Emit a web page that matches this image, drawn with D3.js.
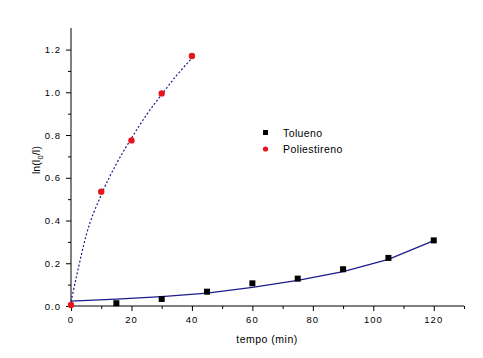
<!DOCTYPE html>
<html><head><meta charset="utf-8">
<script src="https://cdn.jsdelivr.net/npm/d3@7"></script>
<style>body{margin:0;background:#fff}svg{display:block}text{font-family:"Liberation Sans",Arial,sans-serif}</style>
</head><body><svg id="c" width="483" height="358"></svg>
<script>
const toluenoX = [15, 30, 45, 60, 75, 90, 105, 120];
const toluenoY = [0.013, 0.033, 0.067, 0.106, 0.128, 0.172, 0.225, 0.307];
const poliX = [0, 10, 20, 30, 40];
const poliY = [0.005, 0.535, 0.775, 0.995, 1.17];
const toluenoFitX = [0, 15, 30, 45, 60, 75, 90, 105, 120];
const toluenoFitY = [0.023, 0.032, 0.044, 0.060, 0.087, 0.120, 0.161, 0.218, 0.306];
const poliFitX = [0, 2, 5, 10, 15, 20, 25, 30, 35, 40];
const poliFitY = [0.02, 0.15, 0.33, 0.52, 0.665, 0.785, 0.895, 0.99, 1.08, 1.16];
const xTicks = [0, 20, 40, 60, 80, 100, 120];
const yTicks = [0.0, 0.2, 0.4, 0.6, 0.8, 1.0, 1.2];
const legendLabels = ["Tolueno", "Poliestireno"];

const svg = d3.select("#c");
const x = d3.scaleLinear().domain([0, 130]).range([71, 464]);
const y = d3.scaleLinear().domain([0, 1.3]).range([306, 28.2]);

// axes
const gx = svg.append("g").attr("transform", "translate(0,306)");
gx.call(d3.axisBottom(x).tickValues(d3.range(0, 131, 10)).tickSize(3).tickFormat(""));
gx.call(g => g.selectAll(".tick").filter(d => d % 20 === 0).select("line").attr("y2", 5));
gx.select(".domain").attr("d", "M71,0H464");
const gxl = svg.append("g");
xTicks.forEach(t => gxl.append("text").attr("x", x(t)).attr("y", 323).attr("text-anchor", "middle")
  .attr("font-size", 9.5).attr("letter-spacing", 1).text(t));

const gy = svg.append("g").attr("transform", "translate(71,0)");
gy.call(d3.axisLeft(y).tickValues(d3.range(0, 13).map(i => i / 10)).tickSize(3).tickFormat(""));
gy.call(g => g.selectAll(".tick").filter(d => Math.round(d * 10) % 2 === 0).select("line").attr("x2", -5));
gy.select(".domain").attr("d", "M0,306V28");
yTicks.forEach(t => svg.append("text").attr("x", 61).attr("y", y(t) + 3.5).attr("text-anchor", "end")
  .attr("font-size", 9.5).attr("letter-spacing", 1).text(t.toFixed(1)));
svg.selectAll(".domain, .tick line").attr("stroke", "#000").attr("stroke-width", 1);

// axis titles
svg.append("text").attr("x", 267).attr("y", 343).attr("text-anchor", "middle").attr("font-size", 10.5)
  .attr("letter-spacing", 0.5).text("tempo (min)");
const yl = svg.append("text").attr("transform", "translate(40,160) rotate(-90)").attr("text-anchor", "middle").attr("font-size", 10.5);
yl.append("tspan").text("ln(I");
yl.append("tspan").attr("font-size", 7.5).attr("dy", 3).text("0");
yl.append("tspan").attr("dy", -3).text("/I)");

// fit lines
const line = d3.line().x(d => x(d[0])).y(d => y(d[1]));
svg.append("path").datum(toluenoFitX.map((v, i) => [v, toluenoFitY[i]])).attr("d", line)
  .attr("fill", "none").attr("stroke", "#1c1c8c").attr("stroke-width", 1.2);
svg.append("path").datum(poliFitX.map((v, i) => [v, poliFitY[i]])).attr("d", d3.line().curve(d3.curveMonotoneX).x(d => x(d[0])).y(d => y(d[1])))
  .attr("fill", "none").attr("stroke", "#1c1c8c").attr("stroke-width", 1.2).attr("stroke-dasharray", "2,2");

// markers
svg.selectAll(".tol").data(toluenoX.map((v, i) => [v, toluenoY[i]])).enter().append("rect")
  .attr("x", d => x(d[0]) - 3).attr("y", d => y(d[1]) - 3).attr("width", 6).attr("height", 6).attr("fill", "#000");
svg.selectAll(".pol").data(poliX.map((v, i) => [v, poliY[i]])).enter().append("circle")
  .attr("cx", d => x(d[0])).attr("cy", d => y(d[1])).attr("r", 3.2).attr("fill", "#e8141b");

// legend
svg.append("rect").attr("x", 263).attr("y", 130).attr("width", 5).attr("height", 5).attr("fill", "#000");
svg.append("circle").attr("cx", 265.5).attr("cy", 149).attr("r", 2.6).attr("fill", "#e8141b");
legendLabels.forEach((l, i) => svg.append("text").attr("x", 283).attr("y", 136.5 + i * 16.5)
  .attr("font-size", 10.5).attr("letter-spacing", 0.4).text(l));
</script></body></html>
